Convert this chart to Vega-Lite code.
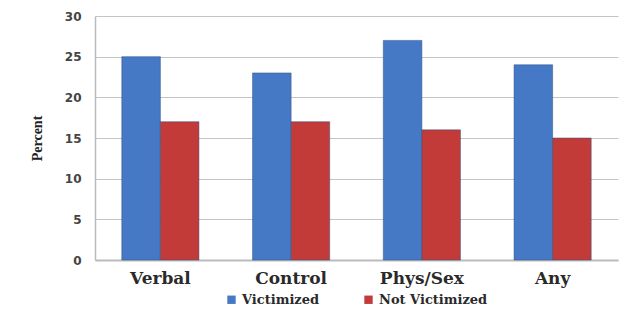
{
  "$schema": "https://vega.github.io/schema/vega-lite/v6.json",
  "width": 523,
  "height": 244,
  "autosize": {"type": "none"},
  "padding": {"left": 95, "top": 16, "right": 7, "bottom": 49},
  "background": "white",
  "data": {"values": [
    {"category": "Verbal", "group": "Victimized", "percent": 25},
    {"category": "Verbal", "group": "Not Victimized", "percent": 17},
    {"category": "Control", "group": "Victimized", "percent": 23},
    {"category": "Control", "group": "Not Victimized", "percent": 17},
    {"category": "Phys/Sex", "group": "Victimized", "percent": 27},
    {"category": "Phys/Sex", "group": "Not Victimized", "percent": 16},
    {"category": "Any", "group": "Victimized", "percent": 24},
    {"category": "Any", "group": "Not Victimized", "percent": 15}
  ]},
  "mark": {"type": "bar", "stroke": "#2e4f80", "strokeWidth": 0.5},
  "encoding": {
    "x": {
      "field": "category", "type": "nominal",
      "sort": ["Verbal", "Control", "Phys/Sex", "Any"],
      "scale": {"paddingInner": 0.41, "paddingOuter": 0.205},
      "axis": {
        "title": null, "labelAngle": 0, "ticks": false,
        "labelFont": "DejaVu Serif", "labelFontSize": 17, "labelFontWeight": "bold", "labelColor": "#2a2a2a",
        "labelPadding": 10, "domainColor": "#bbbbbb", "domainWidth": 2
      }
    },
    "xOffset": {"field": "group", "type": "nominal", "sort": ["Victimized", "Not Victimized"]},
    "y": {
      "field": "percent", "type": "quantitative",
      "scale": {"domain": [0, 30]},
      "axis": {
        "title": "Percent", "values": [0, 5, 10, 15, 20, 25, 30],
        "titleFont": "Liberation Serif", "titleFontSize": 14, "titleFontWeight": "bold",
        "titleColor": "#222222", "titlePadding": 20,
        "labelFont": "DejaVu Sans", "labelFontSize": 12, "labelFontWeight": "bold",
        "labelColor": "#444444", "labelPadding": 14,
        "ticks": false, "domainColor": "#bbbbbb", "domainWidth": 1.5,
        "gridColor": "#c4c4c4", "gridWidth": 1.2
      }
    },
    "color": {
      "field": "group", "type": "nominal",
      "sort": ["Victimized", "Not Victimized"],
      "scale": {"domain": ["Victimized", "Not Victimized"], "range": ["#4579c6", "#c23b38"]},
      "legend": {
        "title": null, "orient": "none", "direction": "horizontal",
        "legendX": 130, "legendY": 277,
        "symbolType": "square", "symbolSize": 70, "symbolStrokeWidth": 0,
        "labelFont": "DejaVu Serif", "labelFontSize": 13, "labelFontWeight": "bold", "labelColor": "#2a2a2a",
        "labelOffset": 4,
        "columnPadding": 42, "labelLimit": 200
      }
    }
  },
  "config": {
    "view": {"stroke": null},
    "legend": {"labelFont": "DejaVu Serif"}
  }
}
